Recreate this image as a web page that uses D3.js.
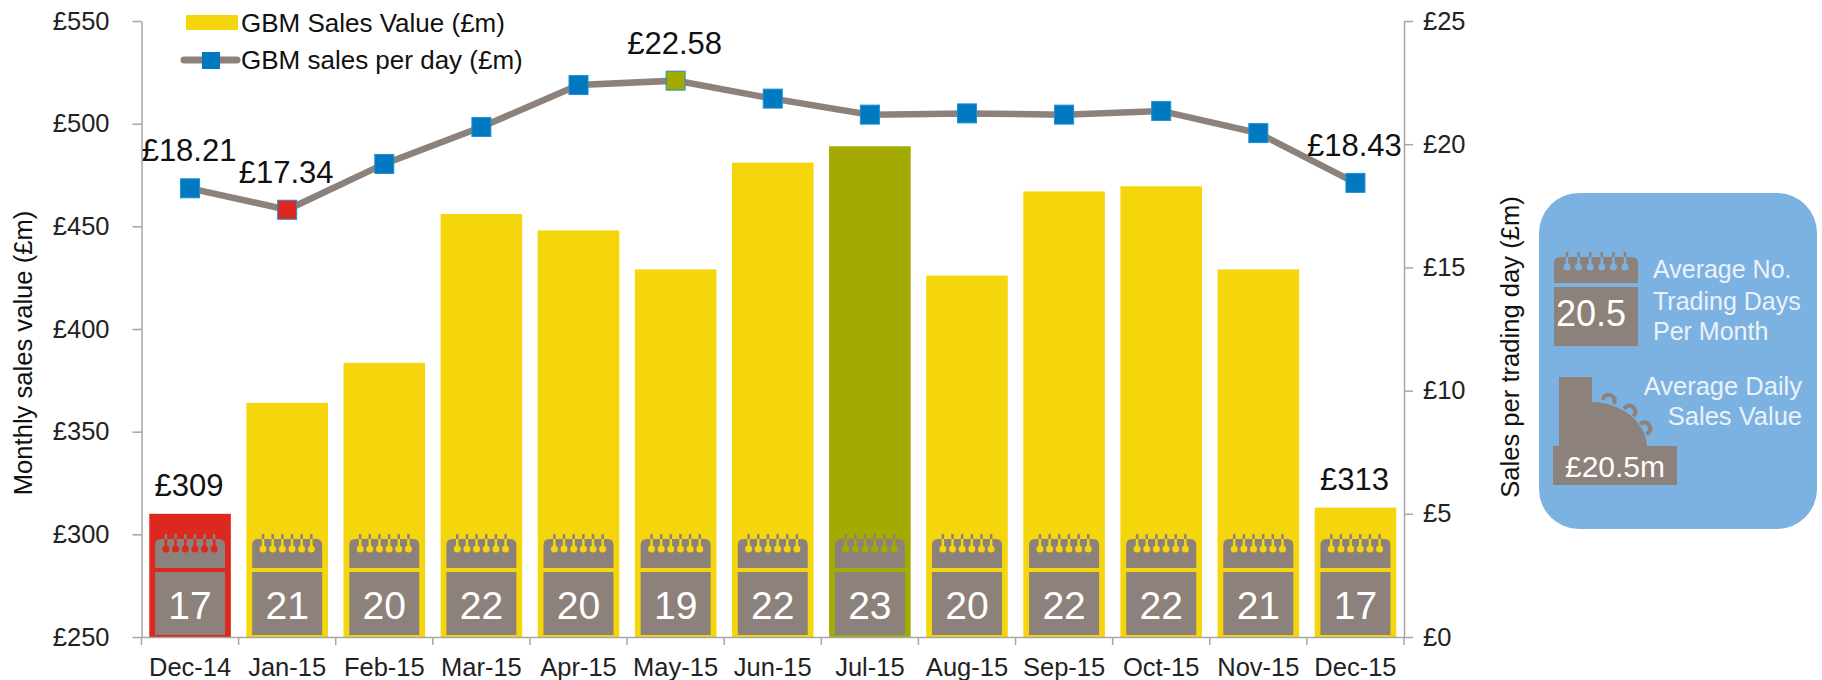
<!DOCTYPE html>
<html>
<head>
<meta charset="utf-8">
<script src="https://cdn.jsdelivr.net/npm/d3@7"></script>
<style>
  body { margin: 0; background: #fff; }
  svg { display: block; }
  text { font-family: "Liberation Sans", Arial, sans-serif; fill: #111; }
</style>
</head>
<body>
<svg id="chart" width="1822" height="680"></svg>
<script>
// Chart data
const months = ['Dec-14', 'Jan-15', 'Feb-15', 'Mar-15', 'Apr-15', 'May-15', 'Jun-15', 'Jul-15', 'Aug-15', 'Sep-15', 'Oct-15', 'Nov-15', 'Dec-15'];
const salesValue = [310, 364, 383.5, 456, 448, 429, 481, 489, 426, 467, 469.5, 429, 313];
const salesPerDay = [18.21, 17.34, 19.2, 20.7, 22.4, 22.58, 21.85, 21.2, 21.25, 21.2, 21.35, 20.45, 18.43];
const tradingDays = [17, 21, 20, 22, 20, 19, 22, 23, 20, 22, 22, 21, 17];
const barLabels = { 'Dec-14': '£309', 'Dec-15': '£313' };
const lineLabels = { 'Dec-14': '£18.21', 'Jan-15': '£17.34', 'May-15': '£22.58', 'Dec-15': '£18.43' };
const leftTicks = [250, 300, 350, 400, 450, 500, 550];
const rightTicks = [0, 5, 10, 15, 20, 25];

const yellow = '#f5d50c', red = '#dc281e', green = '#a3ab00';
const grey = '#8c817b', blue = '#0079c1', panelBlue = '#7cb2e1', axisGrey = '#a6a6a6';

function barColor(m) {
  if (m === 'Dec-14') return red;
  if (m === 'Jul-15') return green;
  return yellow;
}
function markerColor(m) {
  if (m === 'Jan-15') return red;
  if (m === 'May-15') return green;
  return blue;
}

const svg = d3.select('#chart');
const plotLeft = 141.5, plotRight = 1404, plotTop = 21, plotBottom = 637;

const x = d3.scaleBand().domain(months).range([plotLeft, plotRight]).paddingInner(0.16).paddingOuter(0.08);
const yLeft = d3.scaleLinear().domain([250, 550]).range([plotBottom, plotTop]);
const yRight = d3.scaleLinear().domain([0, 25]).range([plotBottom, plotTop]);
const mid = m => x(m) + x.bandwidth() / 2;

// Calendar icon, sits on the plot floor or in the side panel
function drawCalendar(g, cx, w, topY, headH, gap, bodyH, ringColor, label, fontSize, labelDy) {
  g.append('path')
    .attr('d', `M${cx - w / 2},${topY + headH} V${topY + 6} Q${cx - w / 2},${topY} ${cx - w / 2 + 6},${topY} H${cx + w / 2 - 6} Q${cx + w / 2},${topY} ${cx + w / 2},${topY + 6} V${topY + headH} Z`)
    .attr('fill', grey);
  g.append('rect')
    .attr('x', cx - w / 2).attr('y', topY + headH + gap)
    .attr('width', w).attr('height', bodyH)
    .attr('fill', grey);
  d3.range(6).forEach(i => {
    const rx = cx + (i - 2.5) * w * 0.138;
    g.append('line')
      .attr('x1', rx).attr('x2', rx).attr('y1', topY - 5).attr('y2', topY)
      .attr('stroke', grey).attr('stroke-width', 2.5);
    g.append('line')
      .attr('x1', rx).attr('x2', rx).attr('y1', topY).attr('y2', topY + 9)
      .attr('stroke', ringColor).attr('stroke-width', 2.5);
    g.append('circle')
      .attr('cx', rx).attr('cy', topY + 10).attr('r', 3.5)
      .attr('fill', ringColor);
  });
  g.append('text')
    .attr('x', cx).attr('y', topY + headH + gap + labelDy)
    .attr('text-anchor', 'middle')
    .attr('font-size', fontSize)
    .style('fill', '#fff')
    .text(label);
}

// Bars
svg.append('g').selectAll('rect')
  .data(months)
  .join('rect')
  .attr('x', d => x(d))
  .attr('width', x.bandwidth())
  .attr('y', (d, i) => yLeft(salesValue[i]))
  .attr('height', (d, i) => plotBottom - yLeft(salesValue[i]))
  .attr('fill', d => barColor(d));

// Calendars on the bars
const calendars = svg.append('g');
months.forEach((m, i) => {
  drawCalendar(calendars, mid(m), 70, plotBottom - 98, 29, 4, 63, barColor(m), tradingDays[i], 39, 47);
});

// Axes
const axisLeft = d3.axisLeft(yLeft).tickValues(leftTicks).tickFormat(d => '£' + d).tickSize(9).tickSizeOuter(0).tickPadding(23);
const axisRight = d3.axisRight(yRight).tickValues(rightTicks).tickFormat(d => '£' + d).tickSize(9).tickSizeOuter(0).tickPadding(10);
const axisBottom = d3.axisBottom(x).tickSize(0).tickPadding(21);

const gLeft = svg.append('g').attr('transform', `translate(${plotLeft},0)`).call(axisLeft);
const gRight = svg.append('g').attr('transform', `translate(${plotRight},0)`).call(axisRight);
const gBottom = svg.append('g').attr('transform', `translate(0,${plotBottom})`).call(axisBottom);

// x ticks are at the band edges, not the centres
gBottom.selectAll('.edge')
  .data(d3.range(months.length + 1))
  .join('line')
  .attr('x1', d => plotLeft + d * (plotRight - plotLeft) / months.length)
  .attr('x2', d => plotLeft + d * (plotRight - plotLeft) / months.length)
  .attr('y1', 0).attr('y2', 8)
  .attr('stroke', axisGrey).attr('stroke-width', 1.5);

[gLeft, gRight, gBottom].forEach(a => {
  a.selectAll('.domain, .tick line').attr('stroke', axisGrey).attr('stroke-width', 1.5);
  a.selectAll('text').attr('font-size', 25.5).style('fill', '#222');
  a.attr('font-family', null);
});

// Axis titles
svg.append('text')
  .attr('transform', `translate(32,353) rotate(-90)`)
  .attr('text-anchor', 'middle').attr('font-size', 25.6)
  .text('Monthly sales value (£m)');
svg.append('text')
  .attr('transform', `translate(1519,347) rotate(-90)`)
  .attr('text-anchor', 'middle').attr('font-size', 25.6)
  .text('Sales per trading day (£m)');

// Line
const line = d3.line().x(d => mid(d.m)).y(d => yRight(d.v));
const linePts = months.map((m, i) => ({ m: m, v: salesPerDay[i] }));
svg.append('path')
  .datum(linePts)
  .attr('d', line)
  .attr('fill', 'none')
  .attr('stroke', grey)
  .attr('stroke-width', 6.5);

const markerSize = 19;
svg.append('g').selectAll('rect')
  .data(linePts)
  .join('rect')
  .attr('x', d => mid(d.m) - markerSize / 2)
  .attr('y', d => yRight(d.v) - markerSize / 2)
  .attr('width', markerSize).attr('height', markerSize)
  .attr('fill', d => markerColor(d.m))
  .attr('stroke', '#1f8fcf').attr('stroke-width', 1);

// Data labels
svg.append('g').selectAll('text')
  .data(linePts.filter(d => lineLabels[d.m]))
  .join('text')
  .attr('x', d => mid(d.m) - 1)
  .attr('y', d => yRight(d.v) - 27)
  .attr('text-anchor', 'middle').attr('font-size', 31)
  .text(d => lineLabels[d.m]);
svg.append('g').selectAll('text')
  .data(months.filter(m => barLabels[m]))
  .join('text')
  .attr('x', d => mid(d) - 1)
  .attr('y', d => yLeft(salesValue[months.indexOf(d)]) - 18)
  .attr('text-anchor', 'middle').attr('font-size', 31)
  .text(d => barLabels[d]);

// Legend
const legend = svg.append('g');
legend.append('rect').attr('x', 186).attr('y', 15).attr('width', 52).attr('height', 15).attr('fill', yellow);
legend.append('text').attr('x', 241).attr('y', 32).attr('font-size', 26).text('GBM Sales Value (£m)');
legend.append('line').attr('x1', 184).attr('x2', 237).attr('y1', 60).attr('y2', 60)
  .attr('stroke', grey).attr('stroke-width', 7).attr('stroke-linecap', 'round');
legend.append('rect').attr('x', 202).attr('y', 52).attr('width', 18).attr('height', 17).attr('fill', blue);
legend.append('text').attr('x', 241).attr('y', 69).attr('font-size', 26).text('GBM sales per day (£m)');

// Side panel
const panel = svg.append('g');
panel.append('rect')
  .attr('x', 1539).attr('y', 193).attr('width', 278).attr('height', 336)
  .attr('rx', 40).attr('ry', 40)
  .attr('fill', panelBlue);
drawCalendar(panel, 1596, 84, 257, 26, 4, 59, panelBlue, '', 36, 0);
panel.append('text').attr('x', 1591).attr('y', 326).attr('text-anchor', 'middle')
  .attr('font-size', 36).style('fill', '#fff').text('20.5');

const panelText = '#eaf2fa';
[['Average No.', 278], ['Trading Days', 310], ['Per Month', 340]].forEach(d => {
  panel.append('text').attr('x', 1653).attr('y', d[1]).attr('font-size', 25)
    .style('fill', panelText).text(d[0]);
});
[['Average Daily', 395], ['Sales Value', 425]].forEach(d => {
  panel.append('text').attr('x', 1802).attr('y', d[1]).attr('text-anchor', 'end')
    .attr('font-size', 25.5).style('fill', panelText).text(d[0]);
});

// Till icon
panel.append('path')
  .attr('d', 'M1559,447 V377 H1592 V402 A56,46 0 0 1 1647,447 Z')
  .attr('fill', grey);
panel.append('rect').attr('x', 1553).attr('y', 446).attr('width', 124).attr('height', 39).attr('fill', grey);
[[1609, 400, 20], [1630, 411, 40], [1645, 428, 60]].forEach(k => {
  panel.append('path')
    .attr('d', 'M-6,2 Q-6,-5 0,-5 Q6,-5 6,2')
    .attr('transform', `translate(${k[0]},${k[1]}) rotate(${k[2]})`)
    .attr('fill', 'none').attr('stroke', grey).attr('stroke-width', 4);
});
panel.append('text').attr('x', 1615).attr('y', 477).attr('text-anchor', 'middle')
  .attr('font-size', 30).style('fill', '#fff').text('£20.5m');
</script>
</body>
</html>
